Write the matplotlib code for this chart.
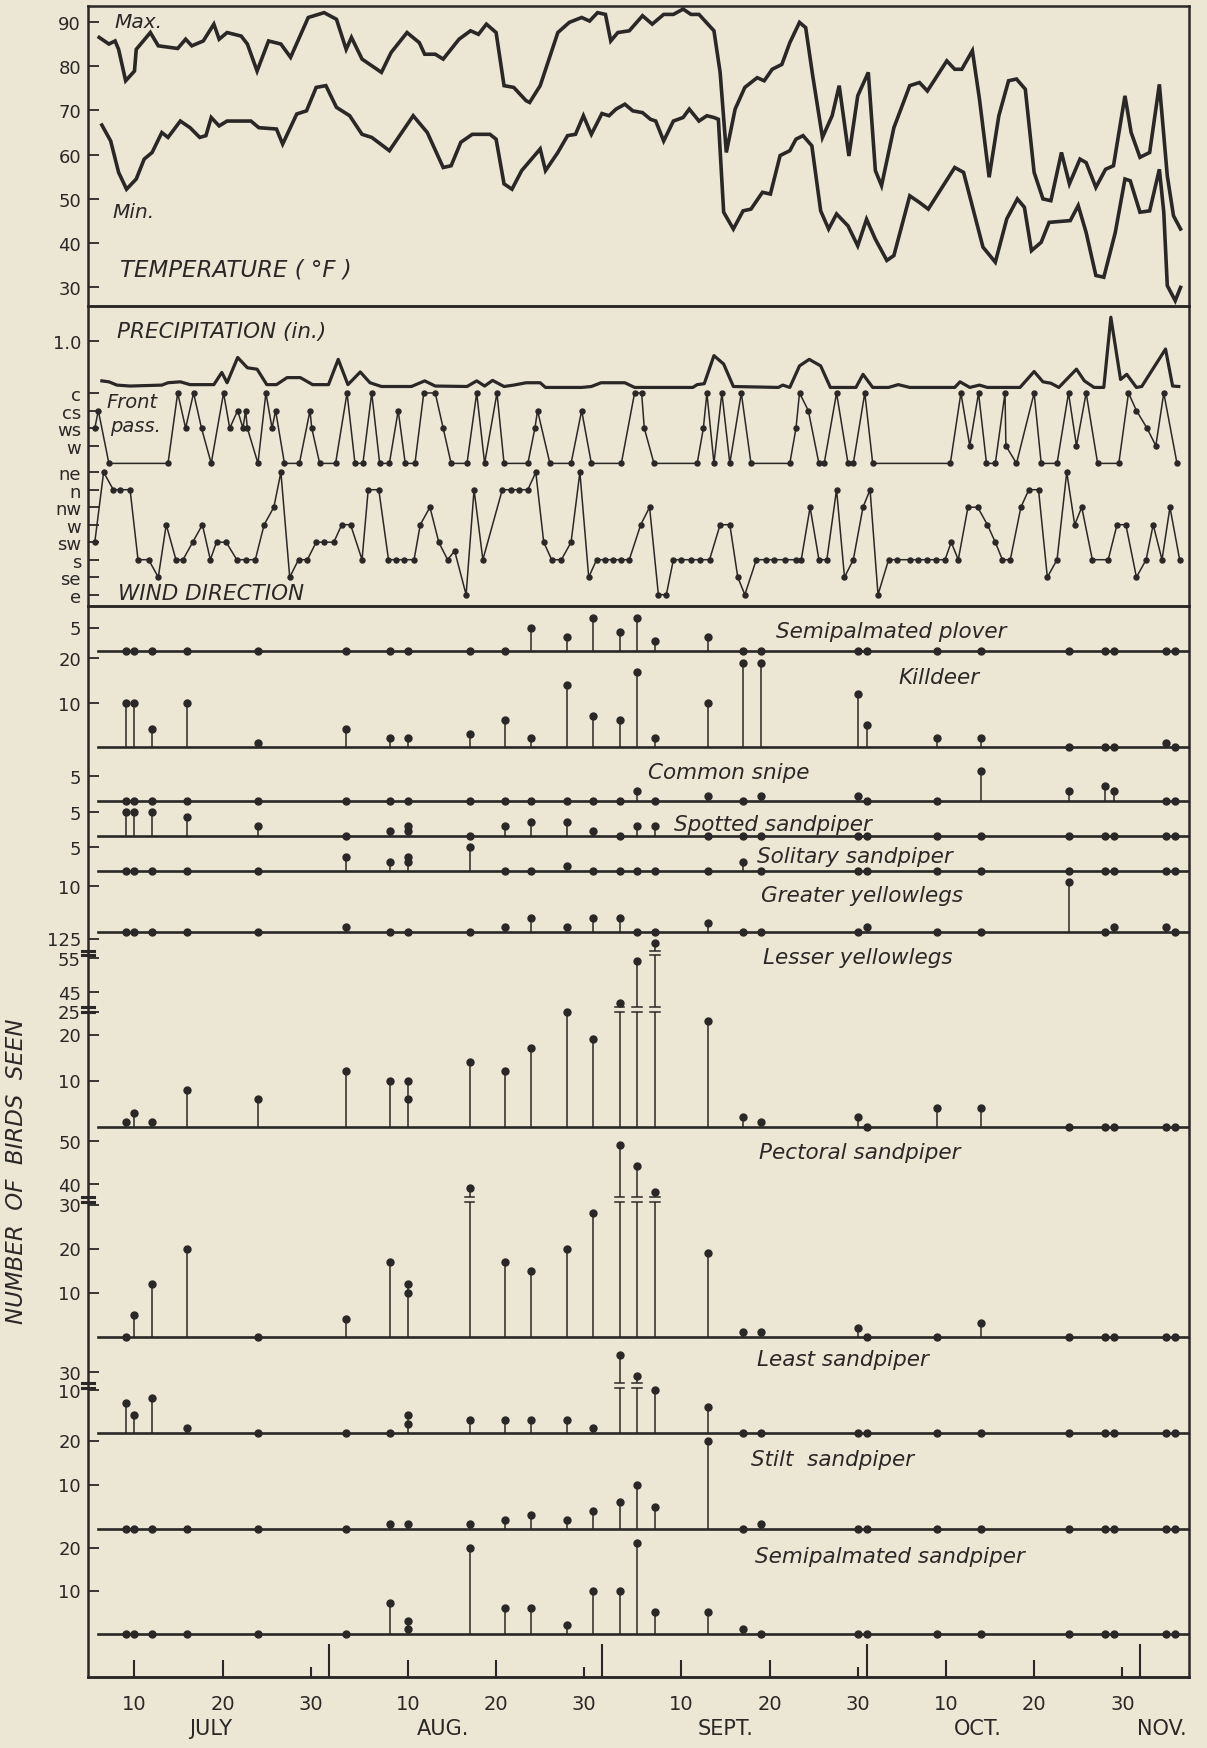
import numpy as np
import matplotlib
matplotlib.use("Agg")
import matplotlib.pyplot as plt
import matplotlib.transforms as mtransforms

# ---------------------------------------------------------------- data
# x values are day numbers counted from July 1 = 1 (Aug 1 = 32, Sept 1 = 63, Oct 1 = 93, Nov 1 = 124)
temp_max = [(6.0,86.5),(7.1,85.0),(7.8,85.7),(8.2,83.8),(9.0,76.7),(10.0,78.9),(10.2,83.8),(11.8,87.6),(12.7,84.6),
 (14.9,84.0),(15.8,86.1),(16.5,84.6),(17.8,85.7),(19.0,89.5),(19.6,86.1),(20.5,87.6),(22.1,86.8),(22.8,85.0),(23.9,78.9),
 (25.2,85.7),(26.6,85.0),(27.7,82.0),(29.7,91.0),(31.5,92.1),(32.9,90.6),(34.0,83.8),(34.6,86.5),(35.8,81.6),(38.0,78.6),
 (39.1,83.1),(40.9,87.6),(42.3,85.3),(42.9,82.7),(44.1,82.7),(45.0,81.6),(46.8,86.1),(48.1,88.0),(49.0,87.2),(49.9,89.5),
 (51.0,87.6),(51.9,75.6),(53.0,75.2),(54.4,72.2),(54.8,71.8),(56.0,75.6),(58.0,87.6),(59.3,89.9),(60.7,91.0),(61.6,90.2),
 (62.5,92.1),(63.4,91.7),(64.0,85.7),(64.8,87.6),(66.1,88.0),(67.6,91.4),(68.7,89.5),(70.0,91.7),(71.1,91.7),(72.2,92.9),
 (73.1,91.7),(74.0,91.7),(75.7,88.0),(76.4,78.6),(77.1,60.5),(78.1,70.3),(79.2,75.2),(80.6,77.4),(81.4,76.7),(82.3,79.3),
 (83.4,80.4),(84.3,85.3),(85.4,89.9),(86.1,88.7),(86.9,77.8),(88.0,63.9),(89.1,68.8),(89.9,75.6),(91.0,59.7),(92.0,73.3),
 (93.2,78.6),(94.0,56.4),(94.7,53.0),(96.1,66.1),(97.9,75.6),(99.0,76.3),(99.9,74.4),(101.0,77.8),(102.1,81.2),(103.0,79.3),
 (103.8,79.3),(105.0,83.5),(105.8,72.6),(106.9,54.9),(108.0,68.8),(109.1,76.7),(110.0,77.1),(111.0,74.8),(112.0,56.0),
 (113.0,50.0),(113.9,49.6),(115.1,60.5),(116.0,53.4),(117.2,59.0),(117.9,58.2),(119.0,52.6),(120.1,56.7),(121.0,57.5),
 (122.3,73.3),(123.0,65.0),(124.0,59.4),(125.1,60.5),(126.2,75.9),(127.1,55.2),(127.8,46.2),(128.6,43.2)]

temp_min = [(6.3,66.7),(7.3,63.1),(8.2,56.0),(9.1,52.2),(10.2,54.5),(11.1,59.0),(12.0,60.5),(13.1,65.0),(13.8,63.9),
 (15.2,67.6),(16.3,66.1),(17.4,63.9),(18.1,64.3),(18.7,68.4),(19.6,66.5),(20.5,67.6),(23.2,67.6),(24.1,66.1),(26.1,65.8),
 (26.8,62.4),(28.4,69.2),(29.5,69.9),(30.6,75.2),(31.7,75.6),(32.9,70.7),(34.4,68.8),(35.8,64.6),(36.9,63.9),(38.9,60.9),
 (41.6,68.8),(43.2,65.0),(45.0,57.1),(45.9,57.5),(47.0,62.8),(48.3,64.6),(50.3,64.6),(51.0,63.5),(51.9,53.4),(52.8,52.2),
 (53.9,56.4),(56.0,61.3),(56.6,56.4),(58.0,60.5),(59.1,64.3),(60.0,64.6),(60.9,68.8),(61.8,64.6),(63.0,69.3),(63.8,68.8),
 (64.6,70.3),(65.6,71.4),(66.5,69.9),(67.6,69.5),(68.5,68.0),(69.1,67.6),(70.0,63.1),(71.1,67.6),(72.2,68.4),(72.9,70.3),
 (74.0,67.6),(74.9,68.8),(75.7,68.4),(76.2,68.0),(76.8,47.0),(77.9,43.2),(79.0,47.3),(79.9,47.7),(81.2,51.5),(82.1,51.1),
 (83.2,59.8),(84.3,60.9),(85.0,63.5),(85.8,64.3),(86.8,62.0),(87.8,47.3),(88.7,43.2),(89.6,46.6),(90.9,43.9),(92.0,39.4),
 (93.0,45.4),(94.0,40.9),(95.3,36.1),(96.1,37.2),(97.9,50.7),(99.0,49.2),(100.0,47.7),(103.0,57.1),(104.0,56.0),
 (106.2,39.1),(107.6,35.7),(108.9,45.5),(110.1,50.0),(110.9,48.1),(111.7,38.3),(112.8,40.2),(113.7,44.7),(116.1,45.1),
 (117.0,48.5),(117.9,42.4),(119.0,32.7),(119.9,32.3),(121.2,42.4),(122.3,54.5),(122.9,54.1),(124.0,47.0),(125.1,47.3),
 (126.2,56.7),(126.7,47.0),(127.1,30.4),(128.0,27.0),(128.6,30.0)]

precip = [(6.3,0.14),(7.1,0.12),(8.0,0.05),(9.5,0.03),(13.1,0.05),(13.8,0.10),(15.2,0.12),(16.3,0.06),(19.0,0.06),
 (19.9,0.32),(20.5,0.10),(21.7,0.64),(22.8,0.42),(23.9,0.39),(25.0,0.06),(26.1,0.06),(27.3,0.21),(28.8,0.21),(30.2,0.06),
 (32.0,0.06),(33.1,0.60),(34.2,0.06),(35.6,0.33),(36.7,0.10),(38.0,0.02),(41.4,0.02),(42.9,0.14),(44.1,0.03),(47.7,0.02),
 (48.8,0.14),(49.7,0.03),(50.6,0.15),(51.9,0.02),(53.0,0.05),(54.4,0.10),(56.0,0.10),(56.6,0.0),(60.7,0.0),(61.8,0.02),
 (62.9,0.10),(65.6,0.10),(66.7,0.0),(73.3,0.0),(73.8,0.06),(74.6,0.08),(75.7,0.68),(76.8,0.50),(77.9,0.02),(83.0,0.0),
 (83.5,0.05),(84.3,0.0),(85.4,0.46),(86.5,0.60),(87.8,0.46),(88.9,0.0),(91.8,0.0),(92.6,0.28),(93.7,0.0),(95.5,0.0),
 (96.6,0.06),(97.9,0.0),(103.0,0.0),(103.6,0.12),(104.7,0.0),(105.8,0.05),(106.7,0.0),(110.4,0.0),(112.0,0.34),
 (113.0,0.12),(113.9,0.09),(114.8,0.0),(116.8,0.39),(117.7,0.14),(118.8,0.0),(119.9,0.0),(120.7,1.50),(121.8,0.17),
 (122.5,0.28),(123.6,0.0),(124.2,0.02),(126.9,0.82),(127.7,0.03),(128.4,0.02)]

front_codes = ["w", "ws", "cs", "c"]          # -1 = no frontal passage
front = [(5.5,1),(5.9,2),(7.1,-1),(13.8,-1),(14.9,3),(15.8,1),(16.7,3),(17.6,1),(18.7,-1),(20.1,3),(20.8,1),(21.7,2),
 (22.3,1),(22.6,2),(22.8,1),(24.0,-1),(24.9,3),(25.6,1),(26.0,2),(27.0,-1),(28.7,-1),(29.9,2),(30.1,1),(31.0,-1),
 (32.8,-1),(34.1,3),(35.0,-1),(35.9,-1),(36.9,3),(37.8,-1),(38.9,-1),(39.9,2),(40.7,-1),(41.8,-1),(42.8,3),(44.1,3),
 (45.0,1),(45.9,-1),(47.7,-1),(48.8,3),(49.7,-1),(51.1,3),(51.9,-1),(54.6,-1),(55.4,1),(55.7,2),(57.1,-1),(59.5,-1),
 (60.7,2),(61.8,-1),(65.2,-1),(66.7,3),(67.5,3),(67.8,1),(68.9,-1),(73.8,-1),(74.5,1),(74.9,3),(75.7,-1),(76.6,3),
 (77.5,-1),(78.8,3),(79.9,-1),(84.3,-1),(85.0,1),(85.4,3),(86.4,2),(87.6,-1),(88.2,-1),(89.6,3),(90.9,-1),(91.5,-1),
 (92.8,3),(93.7,-1),(102.5,-1),(103.7,3),(104.7,0),(105.7,3),(106.6,-1),(107.6,-1),(108.7,3),(108.8,0),(110.0,-1),
 (112.0,3),(112.8,-1),(114.6,-1),(115.9,3),(116.8,0),(117.9,3),(119.2,-1),(121.6,-1),(122.7,3),(123.6,2),(124.8,1),
 (125.8,0),(126.7,3),(128.2,-1)]

wind_dirs = ["e", "se", "s", "sw", "w", "nw", "n", "ne"]
wind = [(5.5,3),(6.5,7),(7.6,6),(8.4,6),(9.5,6),(10.4,2),(11.6,2),(12.7,1),(13.6,4),(14.7,2),(15.5,2),(16.6,3),(17.7,4),
 (18.6,2),(19.3,3),(20.4,3),(21.6,2),(22.6,2),(23.7,2),(24.7,4),(25.8,5),(26.6,7),(27.6,1),(28.6,2),(29.6,2),(30.6,3),
 (31.5,3),(32.6,3),(33.5,4),(34.5,4),(35.8,2),(36.5,6),(37.7,6),(38.8,2),(39.6,2),(40.6,2),(41.7,2),(42.4,4),(43.5,5),
 (44.5,3),(45.5,2),(46.3,2.5),(47.6,0),(48.5,6),(49.5,2),(51.7,6),(52.7,6),(53.6,6),(54.6,6),(55.5,7),(56.4,3),(57.3,2),
 (58.4,2),(59.5,3),(60.5,7),(61.5,1),(62.4,2),(63.4,2),(64.3,2),(65.2,2),(66.1,2),(67.4,4),(68.4,5),(69.4,0),(70.3,0),
 (71.1,2),(72.0,2),(73.1,2),(74.1,2),(75.2,2),(76.4,4),(77.5,4),(78.4,1),(79.2,0),(80.5,2),(81.6,2),(82.5,2),(83.8,2),
 (85.0,2),(85.6,2),(86.6,5),(87.6,2),(88.5,2),(89.6,6),(90.5,1),(91.5,2),(92.6,5),(93.4,6),(94.3,0),(95.5,2),(96.4,2),
 (97.9,2),(98.8,2),(99.9,2),(100.9,2),(101.9,2),(102.6,3),(103.4,2),(104.5,5),(105.6,5),(106.7,4),(107.6,3),(108.4,2),
 (109.3,2),(110.5,5),(111.4,6),(112.5,6),(113.5,1),(114.6,2),(115.7,7),(116.6,4),(117.4,5),(118.6,2),(120.4,2),(121.4,4),
 (122.4,4),(123.6,1),(124.7,2),(125.5,4),(126.5,2),(127.4,5),(128.5,2)]

survey_days = [9, 10, 12, 16, 24, 34, 39, 41, 48, 52, 55, 59, 62, 65, 67, 69, 75, 79, 81, 92, 93, 101, 106, 116, 120, 121, 127, 128]

semipalmated_plover    = [0,0,0,0,0, 0,0,0,0,0, 5,3,7,4,7, 2,3,0,0,0, 0,0,0,0,0, 0,0,0]
killdeer               = [10,10,4,10,1, 4,2,2,3,6, 2,14,7,6,17, 2,10,19,19,12, 5,2,2,0,0, 0,1,0]
common_snipe           = [0,0,0,0,0, 0,0,0,0,0, 0,0,0,0,2, 0,1,0,1,1, 0,0,6,2,3, 2,0,0]
spotted_sandpiper      = [5,5,5,4,2, 0,1,2,0,2, 3,3,1,0,2, 2,0,0,0,0, 0,0,0,0,0, 0,0,0]
solitary_sandpiper     = [0,0,0,0,0, 3,2,3,5,0, 0,1,0,0,0, 0,0,2,0,0, 0,0,0,0,0, 0,0,0]
greater_yellowlegs     = [0,0,0,0,0, 1,0,0,0,1, 3,1,3,3,0, 0,2,0,0,0, 1,0,0,11,0, 1,1,0]
lesser_yellowlegs      = [1,3,1,8,6, 12,10,10,14,12, 17,25,19,42,54, 123,23,2,1,2, 0,4,4,0,0, 0,0,0]
pectoral_sandpiper     = [0,5,12,20,0, 4,17,12,39,17, 15,20,28,49,44, 38,19,1,1,2, 0,0,3,0,0, 0,0,0]
least_sandpiper        = [7,4,8,1,0, 0,0,4,3,3, 3,3,1,34,29, 10,6,0,0,0, 0,0,0,0,0, 0,0,0]
stilt_sandpiper        = [0,0,0,0,0, 0,1,1,1,2, 3,2,4,6,10, 5,20,0,1,0, 0,0,0,0,0, 0,0,0]
semipalmated_sandpiper = [0,0,0,0,0, 0,7,3,20,6, 6,2,10,10,21, 5,5,1,0,0, 0,0,0,0,0, 0,0,0]

species_names = ["Semipalmated plover", "Killdeer", "Common snipe", "Spotted sandpiper", "Solitary sandpiper",
                 "Greater yellowlegs", "Lesser yellowlegs", "Pectoral sandpiper", "Least sandpiper",
                 "Stilt  sandpiper", "Semipalmated sandpiper"]
species_counts = [semipalmated_plover, killdeer, common_snipe, spotted_sandpiper, solitary_sandpiper,
                  greater_yellowlegs, lesser_yellowlegs, pectoral_sandpiper, least_sandpiper,
                  stilt_sandpiper, semipalmated_sandpiper]
second_count_day = 41
second_counts = [None, None, None, 1, 2, None, 6, 10, 2, None, 1]
species_ticks = [[5], [10, 20], [5], [5], [5], [10], [10, 20, 25, 45, 55, 125], [10, 20, 30, 40, 50],
                 [10, 30], [10, 20], [10, 20]]

temp_ticks = [30, 40, 50, 60, 70, 80, 90]
day_tick_pos = [10, 20, 41, 51, 72, 82, 102, 112]
day_tick_lab = ["10", "20", "10", "20", "10", "20", "10", "20"]
day30_pos = [30, 61, 92, 122]
month_start = [32, 63, 93, 124]
months = ["JULY", "AUG.", "SEPT.", "OCT.", "NOV."]
month_label_x = [18.6, 45.0, 77.0, 105.6, 126.5]

# ---------------------------------------------------------------- layout / style
W, H, DPI = 1207, 1749, 100
BG = "#ece6d5"
INK = "#2a2826"
plt.rcParams["font.family"] = ["DejaVu Sans"]

fig = plt.figure(figsize=(W / DPI, H / DPI), dpi=DPI, facecolor=BG)
LEFT, RIGHT = 88, 1189
XMIN, XMAX = 4.73, 129.56


def fx(px):
    return px / W


def fy(py):
    return 1 - py / H


def ax_at(top, bottom):
    a = fig.add_axes([LEFT / W, 1 - bottom / H, (RIGHT - LEFT) / W, (bottom - top) / H])
    a.set_facecolor("none")
    a.set_xlim(XMIN, XMAX)
    a.set_xticks([])
    return a


def bare(a):
    for s in a.spines.values():
        s.set_visible(False)


def frame(a, lw=1.8):
    for s in a.spines.values():
        s.set_linewidth(lw)
        s.set_color(INK)


def yticks(a, pos, labels, size=13):
    a.set_yticks(pos)
    a.set_yticklabels(labels)
    a.tick_params(axis="y", direction="in", length=8, width=1.3, labelsize=size, pad=5,
                  colors=INK, labelcolor=INK)
    a.tick_params(axis="y", which="minor", left=False)


txt = dict(color=INK, style="italic")

# ---------------- temperature
axT = ax_at(7, 307)
axT.set_ylim(25.8, 93.6)
frame(axT)
axT.plot(*zip(*temp_max), color=INK, lw=2.6, solid_joinstyle="miter")
axT.plot(*zip(*temp_min), color=INK, lw=2.6, solid_joinstyle="miter")
yticks(axT, temp_ticks, [str(t) for t in temp_ticks])
fig.text(fx(114), fy(22), "Max.", fontsize=14.5, va="center", ha="left", **txt)
fig.text(fx(112), fy(212), "Min.", fontsize=14.5, va="center", ha="left", **txt)
fig.text(fx(120), fy(270), "TEMPERATURE ( \u00b0F )", fontsize=16.5, va="center", ha="left", **txt)

# ---------------- precipitation / fronts / wind (three scales in one panel)
axWd = ax_at(307, 607)
frame(axWd)
axWd.set_ylim(-0.646, 16.5)
wd, wv = zip(*wind)
axWd.plot(wd, wv, color=INK, lw=1.1, marker="o", ms=3.6)
yticks(axWd, range(len(wind_dirs)), wind_dirs, size=13)

axF = ax_at(307, 607)
bare(axF)
axF.set_ylim(-9.1, 7.94)
fd, fv = zip(*front)
axF.plot(fd, fv, color=INK, lw=1.1, marker="o", ms=3.6)
yticks(axF, range(len(front_codes)), front_codes, size=13)

axP = ax_at(307, 607)
bare(axP)
axP.set_ylim(-4.67, 1.74)
axP.plot(*zip(*precip), color=INK, lw=2.3, solid_joinstyle="round")
yticks(axP, [1.0], ["1.0"])
fig.text(fx(117), fy(332), "PRECIPITATION (in.)", fontsize=15.5, va="center", ha="left", **txt)
fig.text(fx(106), fy(403), "Front", fontsize=14, va="center", ha="left", **txt)
fig.text(fx(110), fy(427), "pass.", fontsize=14, va="center", ha="left", **txt)
fig.text(fx(118), fy(594), "WIND DIRECTION", fontsize=15.5, va="center", ha="left", **txt)

# ---------------- bird counts
axB = ax_at(607, 1678)
frame(axB)
axB.set_ylim(0, 1)
axB.set_yticks([])
axB.set_xticks(day_tick_pos)
axB.set_xticklabels(day_tick_lab)
axB.set_xticks(month_start, minor=True)
axB.tick_params(axis="x", which="major", direction="in", length=12, width=1.5, labelsize=14, pad=12,
                colors=INK, labelcolor=INK)
axB.tick_params(axis="x", which="minor", direction="in", length=24, width=1.5, colors=INK)
sec = axB.secondary_xaxis("bottom")
sec.set_xticks(day30_pos)
sec.set_xticklabels(["30"] * len(day30_pos))
sec.tick_params(axis="x", direction="in", length=7, width=1.5, labelsize=14, pad=12, colors=INK,
                labelcolor=INK)
sec.spines["bottom"].set_linewidth(1.8)
sec.spines["bottom"].set_color(INK)
mtrans = mtransforms.blended_transform_factory(axB.transData, fig.transFigure)
for lab, xm in zip(months, month_label_x):
    axB.text(xm, fy(1729), lab, transform=mtrans, ha="center", va="center", fontsize=15, color=INK)
fig.text(fx(17), fy(1171), "NUMBER  OF  BIRDS  SEEN", rotation=90, fontsize=16.5, ha="center", va="center", **txt)

# per-species layout: baseline pixel row, label position (px), scale (value knots, pixel knots, breaks)
baselines = [651.5, 748, 802, 837, 872, 933, 1127.5, 1337.5, 1433.5, 1529.5, 1634.5]
label_xy = [(776, 632), (898, 678), (648, 773), (674, 825), (757, 857), (761, 896), (763, 958),
            (759, 1153), (757, 1360), (751, 1460), (755, 1557)]


def lin(ppu):
    return ([-50, 500], [-50 * ppu, 500 * ppu], [])


scales = [lin(4.6), lin(4.44), lin(5.0), lin(4.8), lin(4.74), lin(4.56),
          ([-50, 0, 25, 27, 42, 56, 60, 120, 500], [-230, 0, 115, 120, 124, 172, 176, 178, 938], [(25, 27), (56, 60)]),
          ([-50, 0, 30, 31, 37, 500], [-220, 0, 132, 135, 140, 140 + 463 * 4.3], [(31, 37)]),
          ([-50, 0, 10.5, 27.5, 500], [-215, 0, 45, 50, 50 + 472.5 * 4.3], [(10.5, 27.5)]),
          lin(4.4), lin(4.3)]

top = 607
for i, (name, vals) in enumerate(zip(species_names, species_counts)):
    base = baselines[i]
    V, Hk, breaks = scales[i]
    V = np.asarray(V, float)
    Hk = np.asarray(Hk, float)
    fwd = (lambda v, V=V, Hk=Hk: np.interp(v, V, Hk))
    inv = (lambda h, V=V, Hk=Hk: np.interp(h, Hk, V))
    ax = ax_at(top, base + 9)
    bare(ax)
    ax.set_yscale("function", functions=(fwd, inv))
    ax.set_ylim(inv(-9.0), inv(base - top))
    yticks(ax, species_ticks[i], [str(t) for t in species_ticks[i]])
    ax.axhline(0, xmin=0.009, xmax=1, color=INK, lw=1.9, zorder=2)
    for d, v in zip(survey_days, vals):
        if v <= 0:
            continue
        lo = 0
        for b0, b1 in breaks:
            if v > b1:
                ax.vlines(d, lo, b0, color=INK, lw=1.1)
                ax.plot([d - 0.55, d + 0.55], [b0, b0], color=INK, lw=1.1)
                ax.plot([d - 0.55, d + 0.55], [b1, b1], color=INK, lw=1.1)
                lo = b1
        ax.vlines(d, lo, v, color=INK, lw=1.1)
    ax.plot(survey_days, vals, "o", color=INK, ms=5, clip_on=False, zorder=3)
    if second_counts[i] is not None:
        ax.plot([second_count_day], [second_counts[i]], "o", color=INK, ms=5, clip_on=False, zorder=3)
    btr = mtransforms.blended_transform_factory(ax.transAxes, ax.transData)
    for b0, b1 in breaks:
        for b in (b0, b1):
            ax.plot([-0.005, 0.005], [b, b], transform=btr, color=INK, lw=2.2, clip_on=False)
    lx, ly = label_xy[i]
    fig.text(fx(lx), fy(ly), name, fontsize=15.5, va="center", ha="left", **txt)
    top = base

fig.savefig("out.png", dpi=DPI, facecolor=BG)
